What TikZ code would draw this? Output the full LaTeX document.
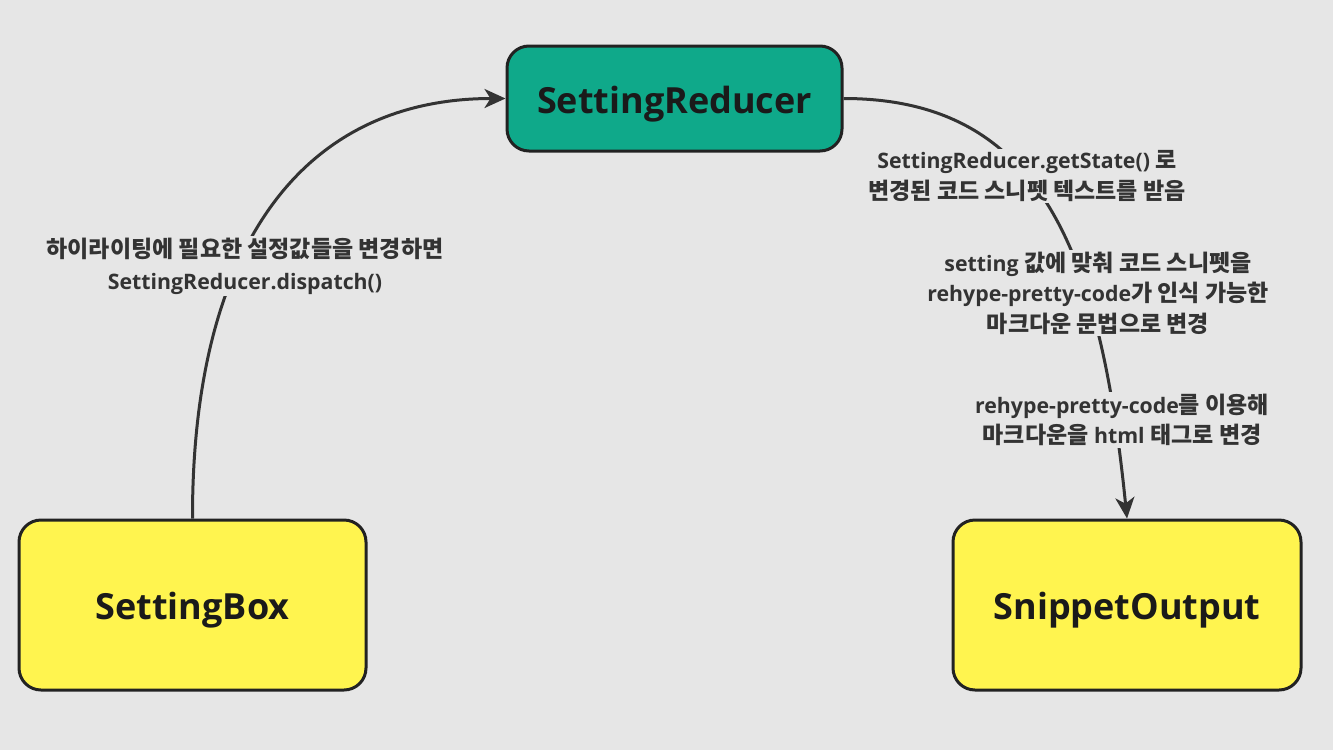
\documentclass[tikz,border=0pt]{standalone}
\usepackage{fontspec}
\setmainfont{Open Sans}
\newfontfamily\kr{Noto Sans CJK KR}[Scale=1.08]
\usetikzlibrary{arrows.meta}
\definecolor{bgc}{HTML}{E6E6E6}
\definecolor{reducerfill}{HTML}{0FA98A}
\definecolor{yelfill}{HTML}{FFF44F}
\definecolor{lnc}{HTML}{333333}
\definecolor{bordc}{HTML}{222222}
\definecolor{txc}{HTML}{1A1A1A}
\tikzset{
  box/.style={draw=bordc, line width=3pt, rounded corners=22pt, text=txc,
    font=\bfseries\fontsize{36}{42}\selectfont, inner sep=0pt,
    text height=29pt, text depth=0pt},
  conn/.style={draw=lnc, line width=3pt, -{Stealth[length=21pt,width=19pt,inset=6pt]}},
  lbl/.style={fill=bgc, text=lnc, align=center, inner sep=2pt,
    font=\bfseries\fontsize{21.3}{30.5}\selectfont}
}
\begin{document}
\begin{tikzpicture}[x=1pt,y=-1pt]
\fill[bgc] (0,0) rectangle (1333,750);
\useasboundingbox (0,0) rectangle (1333,750);

\node[box, fill=reducerfill, minimum width=335pt, minimum height=105pt] (red) at (674.5,98.5) {SettingReducer};
\node[box, fill=yelfill, minimum width=347pt, minimum height=170pt] (sbox) at (192.5,605) {SettingBox};
\node[box, fill=yelfill, minimum width=348pt, minimum height=170pt] (sout) at (1127,605) {SnippetOutput};

\draw[conn] (sbox.north) .. controls (192,250) and (300,98.5) .. (red.west);
\draw[conn] (red.east) .. controls (1040,98.5) and (1100,250) .. (sout.north);

\node[lbl] (l1) at (245,266) {{\kr 하이라이팅에 필요한 설정값들을 변경하면}\\[1.5pt]SettingReducer.dispatch()};
\node[lbl] (l2) at (1027,176) {SettingReducer.getState() {\kr 로}\\{\kr 변경된 코드 스니펫 텍스트를 받음}};
\node[lbl] (l3) at (1098,293) {setting {\kr 값에 맞춰 코드 스니펫을}\\rehype-pretty-code{\kr 가 인식 가능한}\\{\kr 마크다운 문법으로 변경}};
\node[lbl] (l4) at (1122,420) {rehype-pretty-code{\kr 를 이용해}\\{\kr 마크다운을} html {\kr 태그로 변경}};
\end{tikzpicture}
\end{document}
